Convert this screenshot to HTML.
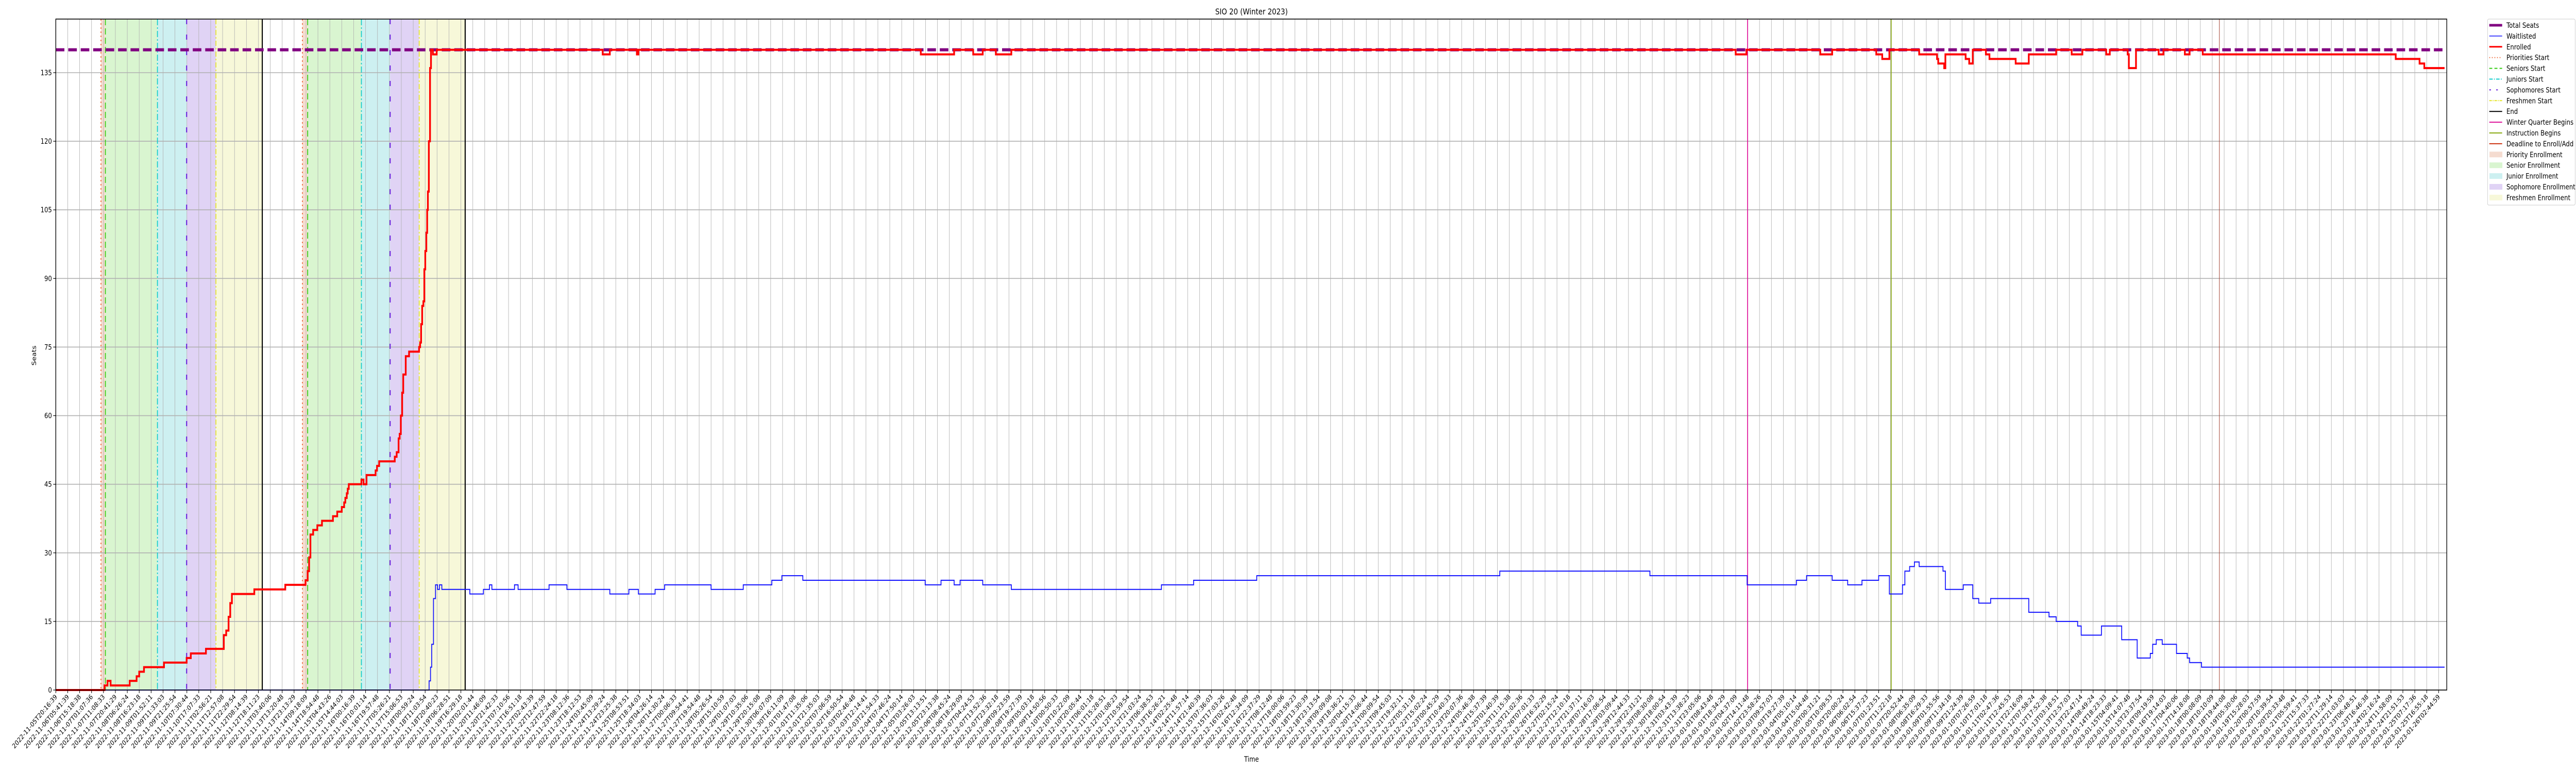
<!DOCTYPE html>
<html><head><meta charset="utf-8"><title>SIO 20 (Winter 2023)</title>
<style>
html,body{margin:0;padding:0;background:#fff;overflow:hidden;width:100%;height:100%;}
svg{display:block;width:100vw;height:100vh;font-family:"DejaVu Sans","Liberation Sans",sans-serif;}
</style></head>
<body>
<svg id="chart" xmlns="http://www.w3.org/2000/svg" viewBox="0 0 6000 1500" preserveAspectRatio="none">
<rect x="0" y="0" width="6000" height="1500" fill="#fff"/>
<g id="spans"></g><g id="grid"></g><g id="events"></g><g id="series"></g><g id="axes"></g><g id="legend"></g>
<text x="2915" y="28" text-anchor="middle" font-size="16">SIO 20 (Winter 2023)</text>
<text x="0" y="0" transform="translate(84,690) rotate(-90)" text-anchor="middle" font-size="14">Seats</text>
<text x="2915" y="1478" text-anchor="middle" font-size="14">Time</text>
</svg>
<script>
// ---- data ----
const totalSeats = 140;
const yTicks = [0,15,30,45,60,75,90,105,120,135];
const enrolledT = [0,4.09,4.34,4.6,6.2,6.78,7.0,7.4,9.08,10.98,11.33,12.6,14.1,14.3,14.5,14.64,14.78,16.66,19.26,20.96,21.14,21.26,21.37,21.6,21.95,22.34,23.26,23.62,24.0,24.2,24.3,24.42,24.5,24.59,25.65,25.83,26.08,26.84,26.96,27.14,28.45,28.61,28.77,28.86,28.96,29.07,29.16,29.37,29.65,30.49,30.58,30.66,30.75,30.85,30.93,31.01,31.1,31.17,31.23,31.31,31.41,31.49,31.65,31.97,45.9,46.5,48.77,48.9,72.6,75.4,77.0,77.8,78.9,80.2,141.0,141.9,148.1,149.1,152.8,153.3,153.9,156.4,157.9,158.0,158.5,158.6,160.3,160.6,160.9,162.0,162.3,164.5,165.6,167.9,169.2,170.1,172.1,172.4,173.9,174.0,174.6,176.5,176.9,178.7,179.1,180.2,196.4,198.4,198.8];
const enrolledV = [0,1,2,1,2,3,4,5,6,7,8,9,12,13,16,19,21,22,23,24,26,29,34,35,36,37,38,39,40,41,42,43,44,45,46,45,47,48,49,50,51,52,55,56,60,65,69,73,74,75,76,80,84,85,92,96,100,105,109,120,136,140,139,140,139,140,139,140,139,140,139,140,139,140,139,140,139,140,139,138,140,139,138,137,136,139,138,137,140,139,138,137,139,140,139,140,139,140,139,136,140,139,140,139,140,139,138,137,136];
const waitT = [0,31.33,31.45,31.55,31.7,31.87,32.04,32.2,32.4,34.75,35.89,36.4,36.6,38.5,38.8,41.4,42.9,46.5,48.1,48.9,50.3,51.1,55.0,57.7,60.1,60.94,62.7,72.97,74.3,75.4,75.9,77.8,80.2,92.8,95.5,100.8,121.2,133.8,141.96,146.1,146.95,149.1,150.4,151.6,153.0,153.9,155.0,155.2,155.6,156.0,156.4,158.4,158.6,160.1,160.9,161.4,162.4,165.6,167.3,167.9,169.7,170.0,171.7,173.4,174.7,175.8,176.0,176.3,176.8,178.0,178.9,179.1,180.1];
const waitV = [0,2,5,10,20,23,22,23,22,21,22,23,22,23,22,23,22,21,22,21,22,23,22,23,24,25,24,23,24,23,24,23,22,23,24,25,26,25,23,24,25,24,23,24,25,21,23,26,27,28,27,26,22,23,20,19,20,17,16,15,14,12,14,11,7,8,10,11,10,8,7,6,5];
const dataEndT = 200.5;
const phaseStarts = [3.79,4.16,8.53,10.98,13.44,20.7,21.14,25.65,28.06,30.5];
const phaseEnds   = [4.16,8.53,10.98,13.44,17.33,21.14,25.65,28.06,30.5,34.36];
const phaseKinds  = ['priority','senior','junior','sophomore','freshmen','priority','senior','junior','sophomore','freshmen'];
const endT = [17.33,34.36];
const winterT = 142.0, instructionT = 154.05, deadlineT = 181.6;
const tickCount = 201;
const tickStart = Date.UTC(2022,10,5,20,16,39);

// ---- scales ----
const L=130,R=5699,T=37,B=1339, tickStep=27.75, vUnit=(B-141)/135;
function X(t){return L+t*tickStep;}
function Y(v){return B-v*vUnit;}
const NS='http://www.w3.org/2000/svg';
function mk(tag,attrs,parent){const e=document.createElementNS(NS,tag);for(const k in attrs)e.setAttribute(k,attrs[k]);parent.appendChild(e);return e;}

const fills={priority:'#f5dcd0',senior:'#d9f5d0',junior:'#cdf0f1',sophomore:'#e0d3f5',freshmen:'#f7f8d9'};
const lineStyle={priority:['#ee6a3a','3,5',2],senior:['#33cc11','12,6',2],junior:['#11cccc','12,4,3,4',2],sophomore:['#6a22dd','10,20',2.5],freshmen:['#e5e52a','10,4,3,4',2]};

const gS=document.getElementById('spans');
for(let i=0;i<phaseStarts.length;i++){
  const r=mk('rect',{x:X(phaseStarts[i]),y:T,width:X(phaseEnds[i])-X(phaseStarts[i]),height:B-T,fill:fills[phaseKinds[i]]},gS);
  
  
}
const gG=document.getElementById('grid');
for(let i=0;i<tickCount;i++){
  const ln=mk('line',{x1:X(i),x2:X(i),y1:T,y2:B,stroke:'#b0b0b0','stroke-width':1},gG);
  
  
}
yTicks.forEach(v=>{
  const ln=mk('line',{x1:L,x2:R,y1:Y(v),y2:Y(v),stroke:'#b0b0b0','stroke-width':1.6},gG);
  
  
});
const gE=document.getElementById('events');
for(let i=0;i<phaseStarts.length;i++){
  const s=lineStyle[phaseKinds[i]];
  const ln=mk('line',{x1:X(phaseStarts[i]),x2:X(phaseStarts[i]),y1:T,y2:B,stroke:s[0],'stroke-dasharray':s[1],'stroke-width':s[2]},gE);
  
  
}
endT.forEach(t=>{
  const ln=mk('line',{x1:X(t),x2:X(t),y1:T,y2:B,stroke:'#000','stroke-width':2.5},gE);
  
  
});
[[winterT,'#dd1199','winter-quarter-begins-line',2],[instructionT,'#88aa11','instruction-begins-line',2],[deadlineT,'#a04030','deadline-to-enroll-line',1.2]].forEach(e=>{
  const ln=mk('line',{x1:X(e[0]),x2:X(e[0]),y1:T,y2:B,stroke:e[1],'stroke-width':e[3]},gE);
  
  
});
const gD=document.getElementById('series');
function stepPath(ts,vs){let d='M'+X(ts[0])+','+Y(vs[0]);for(let i=1;i<ts.length;i++){d+=' H'+X(ts[i])+' V'+Y(vs[i]);}d+=' H'+X(dataEndT);return d;}
const ts=mk('line',{x1:X(0),x2:X(dataEndT),y1:Y(totalSeats),y2:Y(totalSeats),stroke:'#800080','stroke-width':6,'stroke-dasharray':'20,9'},gD);


const wl=mk('path',{d:stepPath(waitT,waitV),fill:'none',stroke:'#1111ff','stroke-width':2},gD);


const en=mk('path',{d:stepPath(enrolledT,enrolledV),fill:'none',stroke:'#ff0000','stroke-width':4},gD);


const gA=document.getElementById('axes');
const fr=mk('rect',{x:L,y:T,width:R-L,height:B-T,fill:'none',stroke:'#000','stroke-width':1.6},gA);


yTicks.forEach(v=>{
  mk('line',{x1:L-6,x2:L,y1:Y(v),y2:Y(v),stroke:'#000','stroke-width':1.2},gA);
  const tx=mk('text',{x:L-9,y:Y(v)+5,'text-anchor':'end','font-size':14},gA);
  tx.textContent=String(v);
  
  
});
function pad(n){return String(n).padStart(2,'0');}
let tms=tickStart;
const tickLabels=[];
for(let i=0;i<tickCount;i++){
  const d=new Date(tms);
  tickLabels.push(d.getUTCFullYear()+'-'+pad(d.getUTCMonth()+1)+'-'+pad(d.getUTCDate())+'T'+pad(d.getUTCHours())+':'+pad(d.getUTCMinutes())+':'+pad(d.getUTCSeconds()));
  tms+=(35100+((i*7919)%2400)-1200)*1000;
}
tickLabels.forEach((lab,i)=>{
  const x=X(i);
  mk('line',{x1:x,x2:x,y1:B,y2:B+6,stroke:'#000','stroke-width':1.2},gA);
  const tx=mk('text',{x:0,y:0,transform:'translate('+(x+4)+','+(B+14)+') rotate(-45)','text-anchor':'end','font-size':13},gA);
  tx.textContent=lab;
  
  
});
const gL=document.getElementById('legend');
const lb=mk('rect',{x:5794,y:37,width:204,height:361,rx:3,fill:'#fff',stroke:'#cccccc','stroke-width':1},gL);


const legendNames=['Total Seats','Waitlisted','Enrolled','Priorities Start','Seniors Start','Juniors Start','Sophomores Start','Freshmen Start','End','Winter Quarter Begins','Instruction Begins','Deadline to Enroll/Add','Priority Enrollment','Senior Enrollment','Junior Enrollment','Sophomore Enrollment','Freshmen Enrollment'];
const legendStyles=[['#800080',5,''],['#1111ff',1.5,''],['#ff0000',3,''],['#ee6a3a',2,'2,4'],['#33cc11',2,'7,5'],['#11cccc',2,'8,3,2,3'],['#6a22dd',2,'4,12'],['#e5e52a',2,'6,2,2,2'],['#000',2,''],['#dd1199',2,''],['#88aa11',2,''],['#cc3311',2,'']];
const legendFills=['#f5dcd0','#d9f5d0','#cdf0f1','#e0d3f5','#f7f8d9'];
legendNames.forEach((n,i)=>{
  const y=49+i*20.9;
  const g=mk('g',{},gL);
  
  
  if(i<12){const s=legendStyles[i];mk('line',{x1:5798,x2:5828,y1:y,y2:y,stroke:s[0],'stroke-width':s[1],'stroke-dasharray':s[2]},g);}
  else{mk('rect',{x:5799,y:y-5,width:29,height:10,fill:legendFills[i-12],stroke:legendFills[i-12]},g);}
  const t=mk('text',{x:5838,y:y+5,'font-size':14},g);
  t.textContent=n;
});
</script>
</body></html>
